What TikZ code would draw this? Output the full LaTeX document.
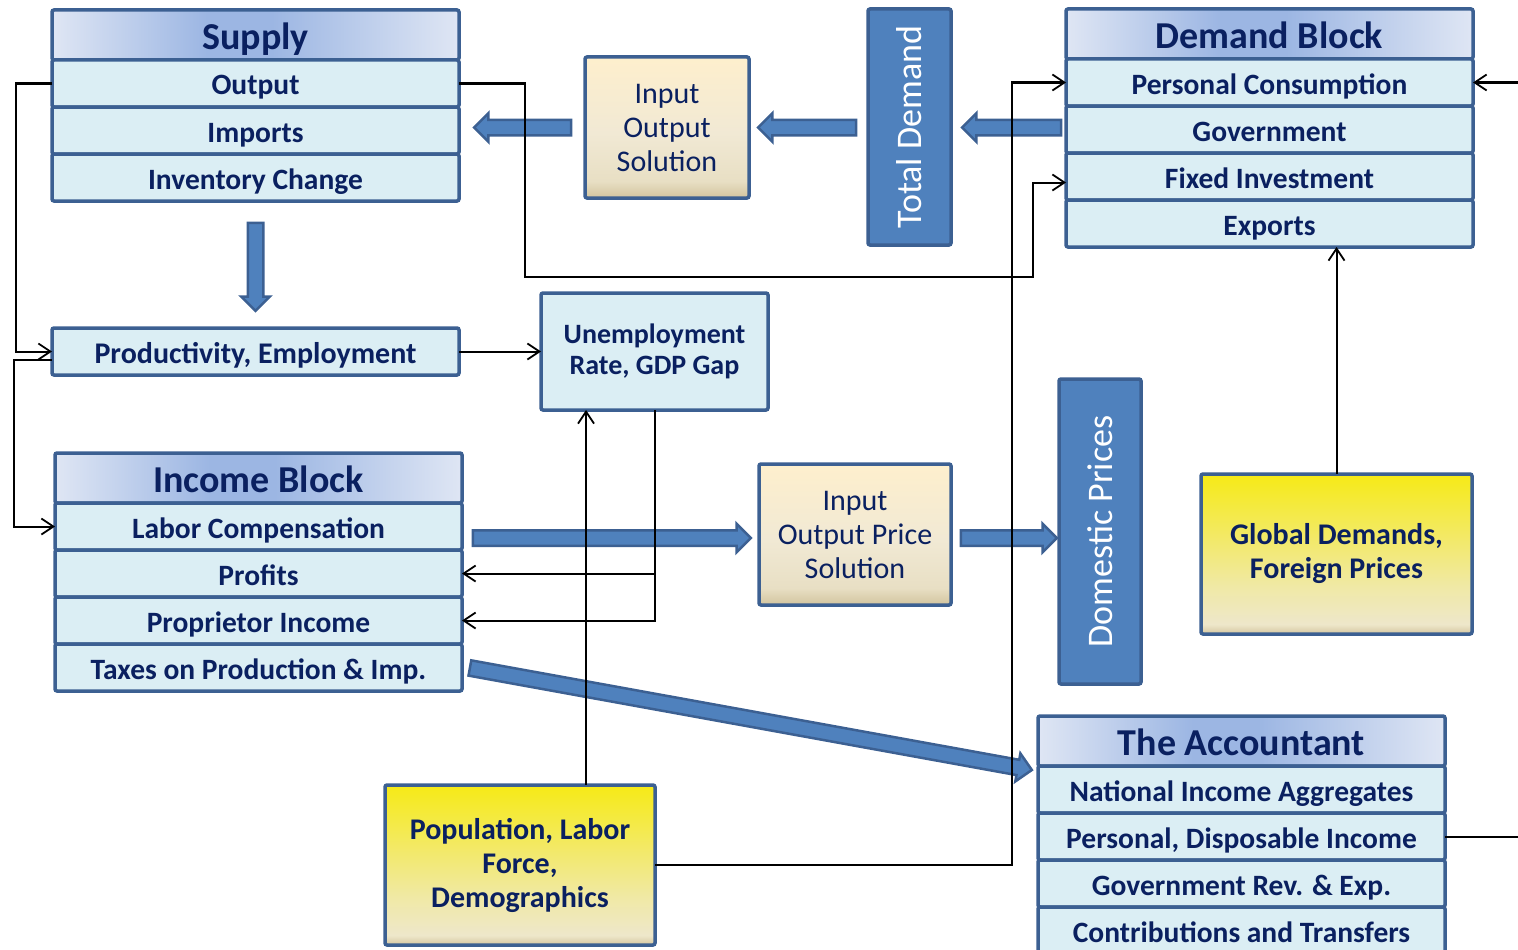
\documentclass[tikz,border=0pt]{standalone}
\usepackage{fontspec}
\usepackage{graphicx}
\setmainfont{Carlito}
\usetikzlibrary{positioning,calc,arrows.meta,shapes.arrows}

\definecolor{bdr}{RGB}{60,96,146}
\definecolor{rowfill}{RGB}{219,238,244}
\definecolor{hdrlt}{RGB}{223,230,244}
\definecolor{hdrmid}{RGB}{156,182,227}
\definecolor{navy}{RGB}{10,32,96}
\definecolor{fatblue}{RGB}{79,129,189}
\definecolor{ylwtop}{RGB}{246,234,22}
\definecolor{ylwpale}{RGB}{240,233,165}
\definecolor{ylwlow}{RGB}{238,231,202}
\definecolor{ylwbot}{RGB}{212,198,160}
\definecolor{tantop}{RGB}{254,239,205}
\definecolor{tanmid}{RGB}{241,233,212}
\definecolor{tanlow}{RGB}{232,223,196}
\definecolor{tanbot}{RGB}{210,196,158}

\pgfdeclarehorizontalshading{hdrshade}{100bp}{color(0bp)=(hdrlt); color(25bp)=(hdrlt);
  color(44bp)=(hdrmid); color(52bp)=(hdrmid); color(75bp)=(hdrlt); color(100bp)=(hdrlt)}
\pgfdeclareverticalshading{ylwshade}{100bp}{color(0bp)=(ylwbot); color(25bp)=(ylwbot);
  color(28bp)=(ylwlow); color(40bp)=(ylwpale); color(75bp)=(ylwtop); color(100bp)=(ylwtop)}
\pgfdeclareverticalshading{tanshade}{100bp}{color(0bp)=(tanbot); color(25bp)=(tanbot);
  color(31bp)=(tanlow); color(48bp)=(tanmid); color(75bp)=(tantop); color(100bp)=(tantop)}

% block arrow between two points
\newcommand\fatarrow[2]{%
  \path let \p1=(#1), \p2=(#2), \n1={atan2(\y2-\y1,\x2-\x1)},
    \n2={veclen(\x2-\x1,\y2-\y1)} in
    node[fatarr, shift={(\n1:-4pt)}, rotate=\n1, minimum height=\n2]
      at ($(\p1)!0.5!(\p2)$) {};}

\begin{document}
\begin{tikzpicture}[x=1pt, y=-1pt,
  box/.style={draw=bdr, line width=3.5pt, rounded corners=2pt, inner sep=0pt,
    outer sep=0pt, text=navy},
  hdr/.style={box, shade, shading=hdrshade, minimum width=407pt, minimum height=50pt,
    text height=28.5pt, text depth=0pt, font=\bfseries\fontsize{38}{40}\selectfont},
  row/.style={box, fill=rowfill, minimum width=407pt, minimum height=47pt,
    text height=23pt, text depth=0pt, font=\bfseries\fontsize{29.5}{32}\selectfont},
  solbox/.style={box, shade, shading=tanshade, align=center,
    font=\fontsize{30}{34}\selectfont},
  extbox/.style={box, shade, shading=ylwshade, align=center,
    font=\bfseries\fontsize{30}{34}\selectfont},
  vbox/.style={box, fill=fatblue, text=white, font=\fontsize{36}{40}\selectfont},
  fatarr/.style={single arrow, draw=bdr, fill=fatblue, line width=2.5pt,
    single arrow head extend=6.5pt, inner xsep=0pt, inner ysep=6.5pt, outer sep=0pt},
  conn/.style={line width=2pt, -{Straight Barb[length=12pt,width=16pt,line width=1.8pt]}}]

  \useasboundingbox (0,0) rectangle (1518,950);

  % supply block
  \node[hdr, anchor=north west] (supHdr) at (52,10) {Supply};
  \node[row, below=0pt of supHdr] (supOut) {Output};
  \node[row, below=0pt of supOut] (supImp) {Imports};
  \node[row, below=0pt of supImp] (supInv) {Inventory Change};

  % demand block
  \node[hdr, anchor=north west] (demHdr) at (1066,9) {Demand Block};
  \node[row, below=0pt of demHdr] (demCons) {Personal Consumption};
  \node[row, below=0pt of demCons] (demGov) {Government};
  \node[row, below=0pt of demGov] (demFix) {Fixed Investment};
  \node[row, below=0pt of demFix] (demExp) {Exports};

  % income block
  \node[hdr, anchor=north west] (incHdr) at (55,453) {Income Block};
  \node[row, below=0pt of incHdr] (incLab) {Labor Compensation};
  \node[row, below=0pt of incLab] (incProf) {Profits};
  \node[row, below=0pt of incProf] (incProp) {Proprietor Income};
  \node[row, below=0pt of incProp] (incTax) {Taxes on Production \& Imp.};

  % the accountant
  \node[hdr, anchor=north west] (accHdr) at (1038,716) {The Accountant};
  \node[row, below=0pt of accHdr] (accNIA) {National Income Aggregates};
  \node[row, below=0pt of accNIA] (accPers) {Personal, Disposable Income};
  \node[row, below=0pt of accPers] (accGov) {Government Rev. \& Exp.};
  \node[row, below=0pt of accGov] (accCon) {Contributions and Transfers};

  % single boxes
  \node[row, anchor=north west, font=\bfseries\fontsize{30}{32}\selectfont]
    (prod) at (52,328) {Productivity, Employment};
  \node[box, fill=rowfill, anchor=north west, minimum width=227pt, minimum height=117pt,
    align=center, font=\bfseries\fontsize{28}{31}\selectfont]
    (unemp) at (541,293) {Unemployment\\Rate, GDP Gap};
  \node[solbox, anchor=north west, minimum width=164pt, minimum height=141pt]
    (ioSol) at (585,57) {Input\\Output\\Solution};
  \node[solbox, anchor=north west, minimum width=192pt, minimum height=141pt]
    (ioPrice) at (759,464) {Input\\Output Price\\Solution};
  \node[vbox, anchor=north west, minimum width=83pt, minimum height=236pt]
    (totDem) at (868,9) {\rotatebox{90}{Total Demand}};
  \node[vbox, anchor=north west, minimum width=82pt, minimum height=305pt]
    (domPr) at (1059,379) {\rotatebox{90}{Domestic Prices}};
  \node[extbox, anchor=north west, minimum width=271pt, minimum height=160pt]
    (glob) at (1201,474) {Global Demands,\\Foreign Prices};
  \node[extbox, anchor=north west, minimum width=270pt, minimum height=160pt]
    (pop) at (385,785) {Population, Labor\\Force,\\Demographics};

  % block arrows
  \fatarrow{$(ioSol.west)+(-14,0)$}{$(ioSol.west -| supImp.east)+(15,0)$}
  \fatarrow{$(totDem.west |- ioSol.east)+(-12,0)$}{$(ioSol.east)+(9,0)$}
  \fatarrow{$(demGov.west |- ioSol.east)+(-5,0)$}{$(totDem.east |- ioSol.east)+(11,0)$}
  \fatarrow{$(supInv.south)+(0,22)$}{$(prod.north)+(0,-17)$}
  \fatarrow{$(incLab.east |- ioPrice.west)+(11,3.5)$}{$(ioPrice.west)+(-8,3.5)$}
  \fatarrow{$(ioPrice.east)+(10,3.5)$}{$(domPr.west |- ioPrice.east)+(-2,3.5)$}
  \fatarrow{$(incTax.east)+(8,0.5)$}{$(accNIA.north west)+(-6,4)$}

  % thin connectors
  \draw[conn] (supOut.west) -- ++(-36,0) |- (prod.west);
  \draw[conn] ([yshift=-8pt]prod.west) -- ++(-38,0) |- (incLab.west);
  \draw[conn] (supOut.east) -| (525,277) -| ([xshift=-33pt,yshift=-6pt]demFix.west)
    -- ([yshift=-6pt]demFix.west);
  \draw[conn] (pop.east) -| ([xshift=-54pt]demCons.west) -- (demCons.west);
  \coordinate (popTop) at ([xshift=66pt]pop.north);
  \draw[conn] (popTop) -- (popTop |- unemp.south);
  \draw[conn] (prod.east) -- (unemp.west);
  \draw[conn] (unemp.south) |- (incProp.east);
  \draw[conn] (unemp.south |- incProf.east) -- (incProf.east);
  \draw[conn] (glob.north) -- (glob.north |- demExp.south);
  \draw[conn] (accPers.east) -- ++(80,0) |- (demCons.east);
\end{tikzpicture}
\end{document}
